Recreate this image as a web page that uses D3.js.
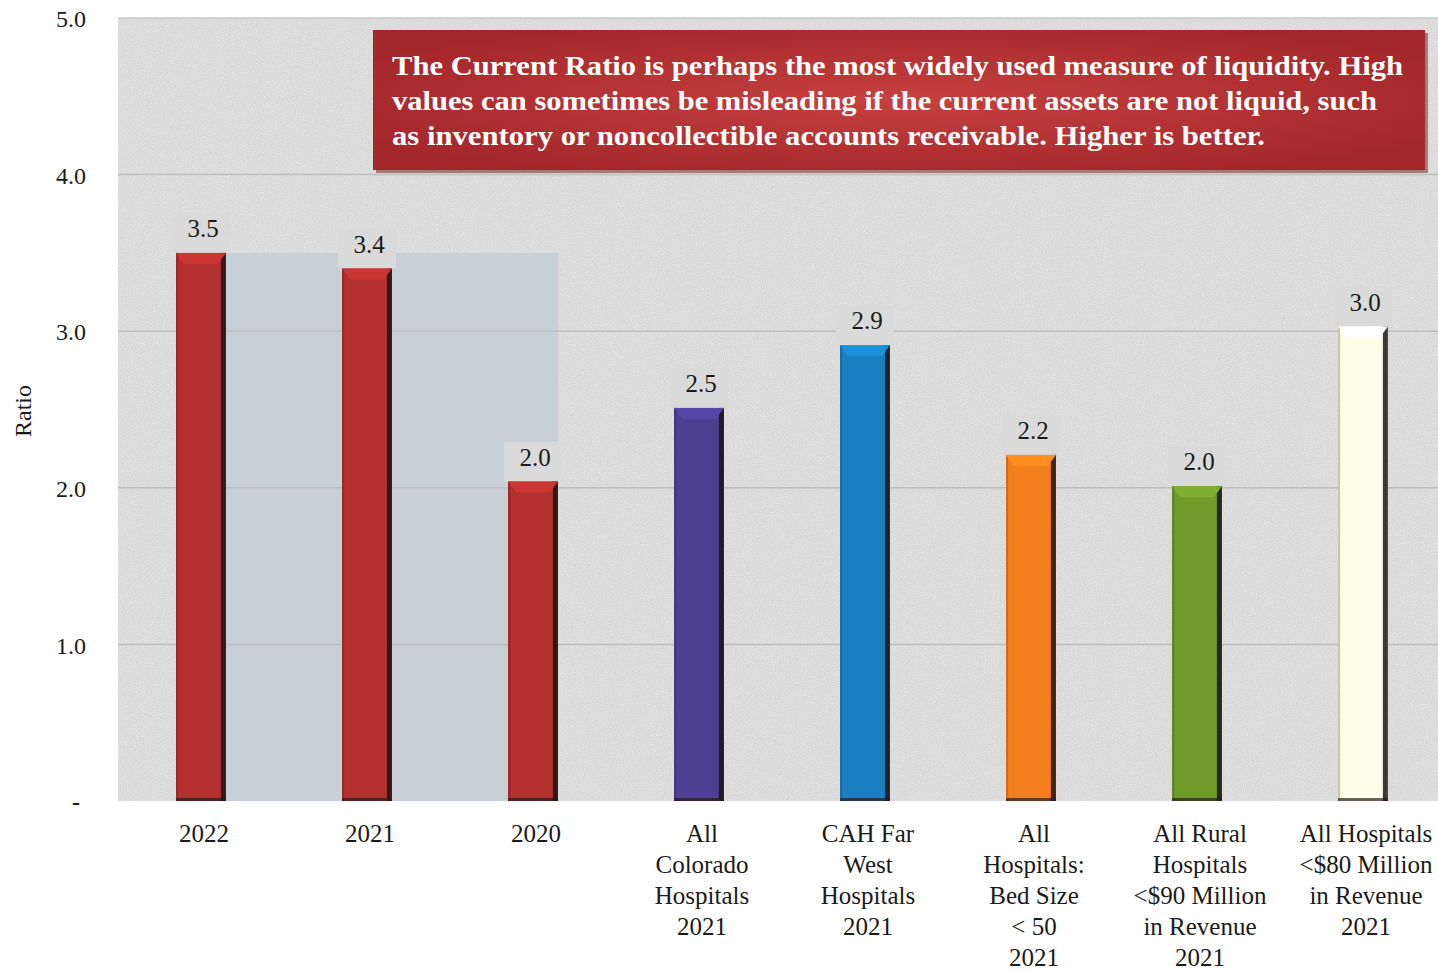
<!DOCTYPE html>
<html>
<head>
<meta charset="utf-8">
<script src="https://cdn.jsdelivr.net/npm/d3@7"></script>
<style>
  html, body { margin: 0; padding: 0; background: #ffffff; overflow: hidden; }
  svg { display: block; }
</style>
</head>
<body>
<svg id="chart" width="1438" height="972"></svg>
<script>
// ---- data ----
const categories = [
  ["2022"],
  ["2021"],
  ["2020"],
  ["All", "Colorado", "Hospitals", "2021"],
  ["CAH Far", "West", "Hospitals", "2021"],
  ["All", "Hospitals:", "Bed Size", "< 50", "2021"],
  ["All Rural", "Hospitals", "<$90 Million", "in Revenue", "2021"],
  ["All Hospitals", "<$80 Million", "in Revenue", "2021"]
];
const categoryKeys = ["2022", "2021", "2020", "Colorado", "CAH", "BedSize", "Rural90", "All80"];
const values = [3.5, 3.4, 2.04, 2.51, 2.91, 2.21, 2.01, 3.03];
const barColors = ["#b3302f", "#b3302f", "#b3302f", "#4d3f92", "#1a7fc0", "#f47d1c", "#6f9a2c", "#fdfde8"];
const yTicks = [0, 1, 2, 3, 4, 5];
const yTickLabels = ["-", "1.0", "2.0", "3.0", "4.0", "5.0"];
const noteLines = [
  "The Current Ratio is perhaps the most widely used measure of liquidity. High",
  "values can sometimes be misleading if the current assets are not liquid, such",
  "as inventory or noncollectible accounts receivable. Higher is better."
];
const noteLineWidths = [1011, 985, 873];

// ---- layout ----
const svg = d3.select("#chart");
const plotLeft = 118, plotRight = 1446, plotTop = 18, plotBottom = 801;
const serif = "'Liberation Serif', 'Times New Roman', serif";

const x = d3.scaleBand().domain(categoryKeys).range([plotLeft, plotRight])
  .paddingInner(0.7).paddingOuter(0.35);
const y = d3.scaleLinear().domain([0, 5]).range([plotBottom, plotTop]);

const defs = svg.append("defs");
const noise = defs.append("filter").attr("id", "noise")
  .attr("x", 0).attr("y", 0).attr("width", "100%").attr("height", "100%");
noise.append("feTurbulence").attr("type", "fractalNoise").attr("baseFrequency", 0.9)
  .attr("numOctaves", 2).attr("seed", 3).attr("result", "t");
noise.append("feColorMatrix").attr("type", "matrix")
  .attr("values", "0 0 0 0 1  0 0 0 0 1  0 0 0 0 1  0 0 0 -2.2 1.35");

const boxGrad = defs.append("radialGradient").attr("id", "boxGrad")
  .attr("cx", "50%").attr("cy", "50%").attr("r", "60%");
boxGrad.append("stop").attr("offset", "0%").attr("stop-color", "#c6413f");
boxGrad.append("stop").attr("offset", "100%").attr("stop-color", "#a3262b");

// plot background
svg.append("rect").attr("x", plotLeft).attr("y", plotTop)
  .attr("width", plotRight - plotLeft).attr("height", plotBottom - plotTop)
  .attr("fill", "#d8d8d8");
svg.append("rect").attr("x", plotLeft).attr("y", plotTop)
  .attr("width", plotRight - plotLeft).attr("height", plotBottom - plotTop)
  .attr("fill", "#ffffff").attr("filter", "url(#noise)").attr("opacity", 0.35);

// shaded band behind historic bars
svg.append("rect")
  .attr("x", x("2022") + x.bandwidth())
  .attr("y", y(values[0]))
  .attr("width", x("2020") + x.bandwidth() - x("2022") - x.bandwidth())
  .attr("height", y(0) - y(values[0]))
  .attr("fill", "#c7d0d7");

// gridlines
svg.append("g").selectAll("line").data(yTicks.filter(d => d > 0)).join("line")
  .attr("x1", plotLeft).attr("x2", plotRight)
  .attr("y1", d => y(d)).attr("y2", d => y(d))
  .attr("stroke", d => d === 5 ? "#c8c8c8" : "#bdbdbd").attr("stroke-width", 1.5);

// y axis labels
const yAxis = d3.axisLeft(y).tickValues(yTicks)
  .tickFormat((d, i) => yTickLabels[i]).tickSize(0).tickPadding(0);
const yg = svg.append("g").attr("transform", "translate(86,0)").call(yAxis);
yg.select(".domain").remove();
yg.selectAll("text").attr("font-family", serif).attr("font-size", 24)
  .attr("fill", "#1a1a1a").attr("dy", "0.36em");
yg.selectAll("text").filter((d) => d === 0).attr("x", -6).attr("font-weight", "bold");

svg.append("text").attr("transform", "translate(31,411) rotate(-90)")
  .attr("text-anchor", "middle").attr("font-family", serif).attr("font-size", 24)
  .attr("fill", "#1a1a1a").text("Ratio");

// bars
const bw = x.bandwidth();
const bars = svg.append("g").selectAll("g").data(categoryKeys).join("g");
bars.each(function (k, i) {
  const g = d3.select(this);
  const x0 = x(k), top = y(values[i]), bot = y(0);
  const c = d3.color(barColors[i]);
  // label background patch
  g.append("rect").attr("x", x0 + bw / 2 - 29).attr("y", top - 40).attr("width", 58)
    .attr("height", 40).attr("fill", "#dadada");
  g.append("rect").attr("x", x0).attr("y", top).attr("width", bw).attr("height", bot - top)
    .attr("fill", c.formatHex());
  // left edge
  g.append("rect").attr("x", x0).attr("y", top).attr("width", 2).attr("height", bot - top)
    .attr("fill", i === 7 ? "#b9b98a" : c.darker(0.6).formatHex()).attr("opacity", 0.8);
  // right dark edge
  g.append("rect").attr("x", x0 + bw - 5).attr("y", top).attr("width", 5).attr("height", bot - top)
    .attr("fill", "#1c1414").attr("opacity", 0.85);
  // top bevel
  g.append("path")
    .attr("d", `M${x0},${top}L${x0 + bw},${top}L${x0 + bw - 8},${top + 11}L${x0 + 8},${top + 11}Z`)
    .attr("fill", c.brighter(0.35).formatHex());
  // bottom dark line
  g.append("rect").attr("x", x0).attr("y", bot - 3).attr("width", bw).attr("height", 3)
    .attr("fill", "#2a1a1a").attr("opacity", 0.7);
  // value label
  g.append("text").attr("x", x0 + bw / 2 + 2).attr("y", top - 16)
    .attr("text-anchor", "middle").attr("font-family", serif).attr("font-size", 25)
    .attr("fill", "#1a1a1a").text(d3.format(".1f")(values[i]));
});

// x labels
const xl = svg.append("g").selectAll("text").data(categoryKeys).join("text")
  .attr("text-anchor", "middle").attr("font-family", serif).attr("font-size", 25)
  .attr("fill", "#1a1a1a");
xl.each(function (k, i) {
  const t = d3.select(this);
  categories[i].forEach((line, j) => {
    t.append("tspan").attr("x", x(k) + bw / 2 + 3).attr("y", 842 + j * 31).text(line);
  });
});

// annotation box
svg.append("rect").attr("x", 376).attr("y", 33).attr("width", 1052).attr("height", 140)
  .attr("fill", "#6b1a1c").attr("opacity", 0.5);
svg.append("rect").attr("x", 373).attr("y", 30).attr("width", 1052).attr("height", 140)
  .attr("fill", "url(#boxGrad)");
svg.append("g").selectAll("text").data(noteLines).join("text")
  .attr("x", 392).attr("y", (d, i) => 75 + i * 35)
  .attr("font-family", serif).attr("font-weight", "bold").attr("font-size", 27)
  .attr("fill", "#ffffff")
  .attr("textLength", (d, i) => noteLineWidths[i]).attr("lengthAdjust", "spacingAndGlyphs")
  .text(d => d);
</script>
</body>
</html>
